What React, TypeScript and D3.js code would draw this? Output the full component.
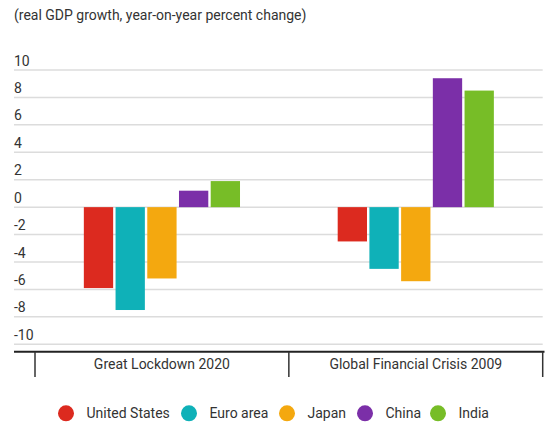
import React from "react";
import * as d3 from "d3";

const categories = ["Great Lockdown 2020", "Global Financial Crisis 2009"];
const seriesNames = ["United States", "Euro area", "Japan", "China", "India"];
const seriesColors = ["#dc2a1f", "#0fb1b8", "#f4a80f", "#7b2fa8", "#77bd27"];
const valuesLockdown = [-5.9, -7.5, -5.2, 1.2, 1.9];
const valuesGFC = [-2.5, -4.5, -5.4, 9.4, 8.5];
const yTicks = [10, 8, 6, 4, 2, 0, -2, -4, -6, -8, -10];
const title = "(real GDP growth, year-on-year percent change)";

const W = 554;
const H = 434;
const FONT = "Roboto, 'Noto Sans', sans-serif";
const TEXT = "#333";

export default function App() {
  const data = [valuesLockdown, valuesGFC];
  const y = d3.scaleLinear().domain([-10, 10]).range([344.3, 70]);
  const x0 = d3.scaleBand<string>().domain(categories).range([35, 542.7]).padding(0);
  const x1 = d3
    .scaleBand<string>()
    .domain(seriesNames)
    .range([0, x0.bandwidth()])
    .paddingInner(0.076)
    .paddingOuter(1.54);

  const legendX = [66, 189, 287, 365, 438];

  return (
    <svg
      width={W}
      height={H}
      style={{ position: "absolute", left: 0, top: 0, background: "#fff" }}
      fontFamily={FONT}
    >
      <rect x={0} y={0} width={W} height={H} fill="#fff" />
      <text x={14} y={20} fontSize={14} fill={TEXT}>
        {title}
      </text>
      {yTicks.map((t) => (
        <g key={t}>
          <line x1={14} x2={542.7} y1={y(t)} y2={y(t)} stroke="#dcdcdc" strokeWidth={1.5} />
          <text x={14} y={y(t) - 4.5} fontSize={14} fill={TEXT}>
            {t}
          </text>
        </g>
      ))}
      {categories.map((c, ci) => (
        <g key={c} transform={`translate(${x0(c)},0)`}>
          {seriesNames.map((s, si) => {
            const v = data[ci][si];
            return (
              <rect
                key={s}
                x={x1(s)}
                width={x1.bandwidth()}
                y={y(Math.max(0, v))}
                height={Math.abs(y(v) - y(0))}
                fill={seriesColors[si]}
              />
            );
          })}
        </g>
      ))}
      <line x1={14} x2={544.5} y1={351.7} y2={351.7} stroke="#222" strokeWidth={2} />
      {[...categories.map((c) => x0(c)!), x0.range()[1]].map((xv, i) => (
        <line key={i} x1={xv} x2={xv} y1={351.7} y2={377} stroke="#333" strokeWidth={1.5} />
      ))}
      {categories.map((c) => (
        <text
          key={c}
          x={x0(c)! + x0.bandwidth() / 2}
          y={369.3}
          fontSize={14}
          textAnchor="middle"
          fill={TEXT}
        >
          {c}
        </text>
      ))}
      {seriesNames.map((s, i) => (
        <g key={s}>
          <circle cx={legendX[i]} cy={413.3} r={8} fill={seriesColors[i]} />
          <text x={legendX[i] + 20.5} y={418.3} fontSize={14} fill={TEXT}>
            {s}
          </text>
        </g>
      ))}
    </svg>
  );
}
